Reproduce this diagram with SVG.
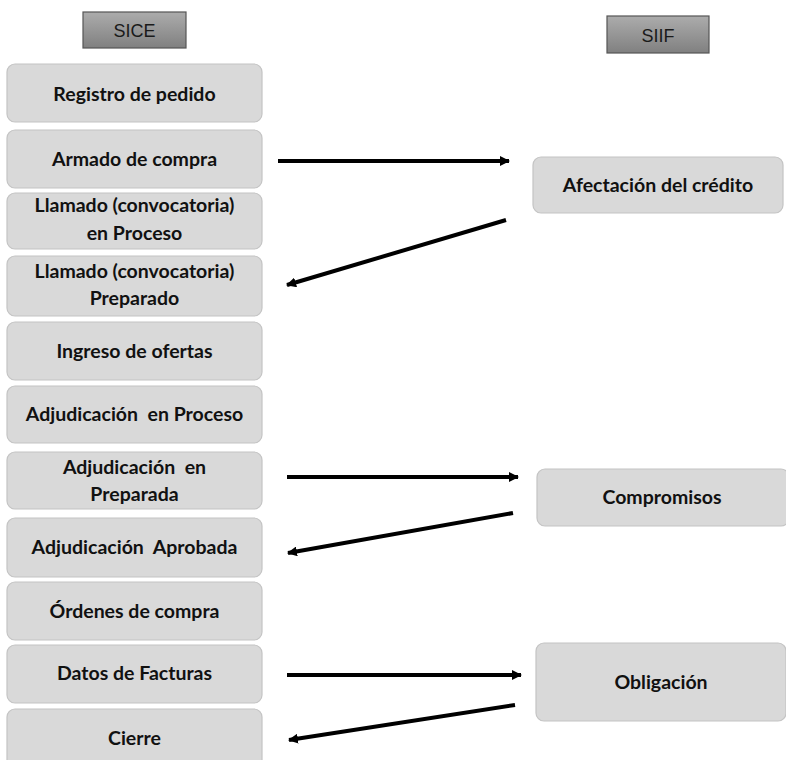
<svg xmlns="http://www.w3.org/2000/svg" width="786" height="760" viewBox="0 0 786 760">
<defs>
<linearGradient id="hdr" x1="0" y1="0" x2="0" y2="1">
<stop offset="0" stop-color="#acacac"/>
<stop offset="1" stop-color="#808080"/>
</linearGradient>
<marker id="ah" viewBox="0 0 10 10" refX="9" refY="5" markerWidth="10" markerHeight="10" markerUnits="userSpaceOnUse" orient="auto">
<path d="M0,0 L10,5 L0,10 Z" fill="#000"/>
</marker>
<style>
.hdr{fill:url(#hdr);stroke:#555;stroke-width:1.2}
.ht{font-family:"Liberation Sans",Arial,sans-serif;font-size:18px;fill:#1a1a1a;text-anchor:middle}
.box{fill:#d9d9d9;stroke:#c4c4c4;stroke-width:1.2}
.t{font-family:Lato,"Open Sans",sans-serif;font-weight:700;font-size:19.5px;fill:#111;text-anchor:middle;white-space:pre}
.c{stroke:#000;stroke-width:4;fill:none;marker-end:url(#ah)}
</style>
</defs>
<rect width="786" height="760" fill="#fff"/>
<g id="sice"><rect class="hdr" x="83" y="12" width="103" height="36"/><text class="ht" x="134.5" y="37">SICE</text></g>
<g id="siif"><rect class="hdr" x="607" y="16" width="102" height="37"/><text class="ht" x="658" y="42">SIIF</text></g>

<g id="n1"><rect class="box" x="7" y="64" width="255" height="58" rx="8"/><text class="t" x="134.5" y="101">Registro de pedido</text></g>
<g id="n2"><rect class="box" x="7" y="130" width="255" height="58" rx="8"/><text class="t" x="134.5" y="166">Armado de compra</text></g>
<g id="n3"><rect class="box" x="7" y="193" width="255" height="56" rx="8"/><text class="t" x="134.5" y="212">Llamado (convocatoria)</text><text class="t" x="134.5" y="240">en Proceso</text></g>
<g id="n4"><rect class="box" x="7" y="256" width="255" height="60" rx="8"/><text class="t" x="134.5" y="278">Llamado (convocatoria)</text><text class="t" x="134.5" y="305">Preparado</text></g>
<g id="n5"><rect class="box" x="7" y="322" width="255" height="58" rx="8"/><text class="t" x="134.5" y="358">Ingreso de ofertas</text></g>
<g id="n6"><rect class="box" x="7" y="386" width="255" height="57" rx="8"/><text class="t" x="134.5" y="421">Adjudicación  en Proceso</text></g>
<g id="n7"><rect class="box" x="7" y="452" width="255" height="57" rx="8"/><text class="t" x="134.5" y="474">Adjudicación  en</text><text class="t" x="134.5" y="501">Preparada</text></g>
<g id="n8"><rect class="box" x="7" y="518" width="255" height="59" rx="8"/><text class="t" x="134.5" y="554">Adjudicación  Aprobada</text></g>
<g id="n9"><rect class="box" x="7" y="582" width="255" height="58" rx="8"/><text class="t" x="134.5" y="618">Órdenes de compra</text></g>
<g id="n10"><rect class="box" x="7" y="645" width="255" height="58" rx="8"/><text class="t" x="134.5" y="680">Datos de Facturas</text></g>
<g id="n11"><rect class="box" x="7" y="709" width="255" height="60" rx="8"/><text class="t" x="134.5" y="745">Cierre</text></g>

<g id="r1"><rect class="box" x="533" y="157" width="250" height="56" rx="8"/><text class="t" x="658" y="192">Afectación del crédito</text></g>
<g id="r2"><rect class="box" x="537" y="469" width="252" height="57" rx="8"/><text class="t" x="662" y="504">Compromisos</text></g>
<g id="r3"><rect class="box" x="536" y="643" width="250" height="78" rx="8"/><text class="t" x="661" y="689">Obligación</text></g>

<g id="connectors">
<line class="c" x1="278" y1="161" x2="509" y2="161"/>
<line class="c" x1="506" y1="220" x2="287" y2="285"/>
<line class="c" x1="287" y1="477" x2="518" y2="477"/>
<line class="c" x1="513" y1="513" x2="288" y2="553"/>
<line class="c" x1="287" y1="675" x2="521" y2="675"/>
<line class="c" x1="515" y1="705" x2="289" y2="740"/>
</g>
</svg>
